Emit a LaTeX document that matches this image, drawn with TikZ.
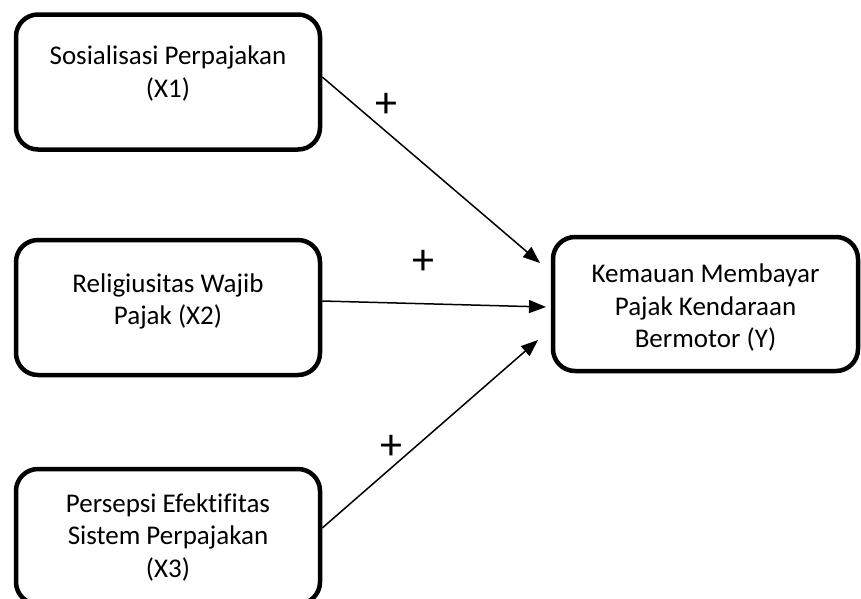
\documentclass[tikz,border=0pt]{standalone}
\usepackage{fontspec}
\setmainfont{Carlito}[Ligatures=NoCommon]
\usetikzlibrary{arrows.meta, positioning}

\begin{document}
\begin{tikzpicture}[x=1pt, y=-1pt,
  box/.style={draw, line width=4.5pt, rounded corners=22pt, minimum width=304pt, minimum height=135pt, inner sep=0pt},
  txt/.style={align=center, inner sep=0pt, font=\fontsize{27}{32.5}\selectfont},
  arr/.style={line width=1.5pt, -{Triangle[length=17pt, width=13pt]}},
  sign/.style={inner sep=0pt, font=\fontsize{44}{44}\selectfont}]
\useasboundingbox (0,0) rectangle (861,598);
\clip (0,0) rectangle (861,598);

% variable boxes
\node[box] (x1) at (168,82) {};
\node[box] (x2) at (168,307.5) {};
\node[box] (x3) at (168,536.5) {};
\node[box, minimum width=305pt, minimum height=134pt] (y) at (705.5,304) {};

\node[txt] (t1) at (168,73.5) {Sosialisasi Perpajakan\\(X1)};
\node[txt] (t2) at (168,301.5) {Religiusitas Wajib\\Pajak (X2)};
\node[txt] (t3) at (168,537) {Persepsi Efektifitas\\Sistem Perpajakan\\(X3)};
\node[txt] (ty) at (705.5,307.5) {Kemauan Membayar\\Pajak Kendaraan\\Bermotor (Y)};

% arrows
\coordinate (e1) at (540,263);
\coordinate (e2) at (546,307);
\coordinate (e3) at (538,340);
\draw[arr] ([yshift=5pt]x1.east) -- (e1);
\draw[arr] ([yshift=6.5pt]x2.east) -- (e2);
\draw[arr] ([yshift=8.5pt]x3.east) -- (e3);

\node[sign] (p1) at (386,105) {+};
\node[sign] (p2) at (423,262) {+};
\node[sign] (p3) at (391,447) {+};
\end{tikzpicture}
\end{document}
